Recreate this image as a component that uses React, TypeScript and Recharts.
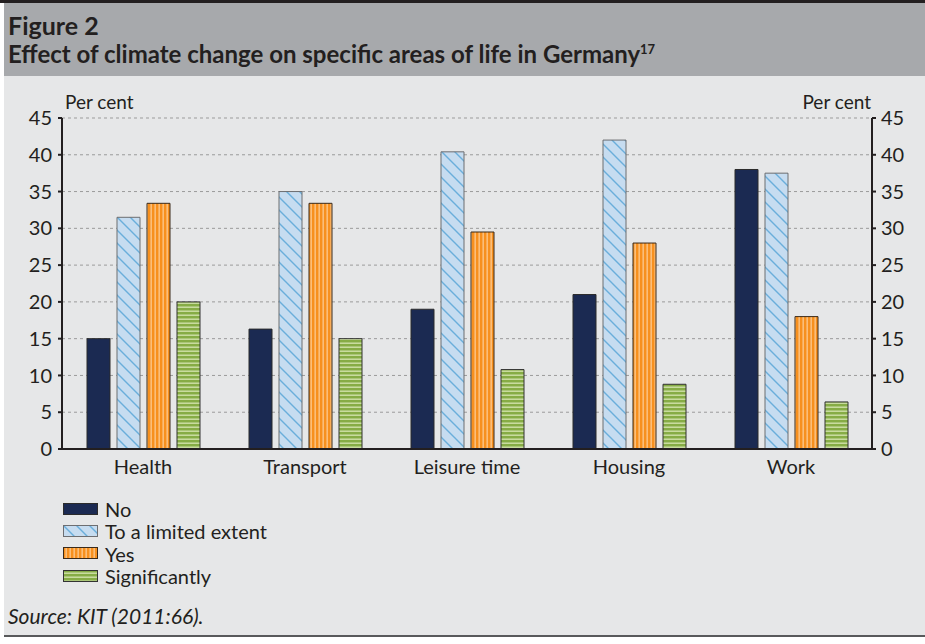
import React from 'react';
import { BarChart, Bar, XAxis, YAxis, CartesianGrid } from 'recharts';

const categories = ['Health', 'Transport', 'Leisure time', 'Housing', 'Work'];
const noValues = [15, 16.3, 19, 21, 38];
const limitedValues = [31.5, 35, 40.4, 42, 37.5];
const yesValues = [33.4, 33.4, 29.5, 28, 18];
const significantValues = [20, 15, 10.8, 8.8, 6.4];
const yTicks = [0, 5, 10, 15, 20, 25, 30, 35, 40, 45];
const edgeTicks = [0, 1, 2, 3, 4, 5];

const series = [
  { key: 'no', name: 'No', fill: '#1b2a52', stroke: '#2b2b2b' },
  { key: 'limited', name: 'To a limited extent', fill: 'url(#limitedPattern)', stroke: '#6d6e71' },
  { key: 'yes', name: 'Yes', fill: 'url(#yesPattern)', stroke: '#3a2a1a' },
  { key: 'significant', name: 'Significantly', fill: 'url(#sigPattern)', stroke: '#333333' },
];

const data = categories.map((name, i) => ({
  name,
  no: noValues[i],
  limited: limitedValues[i],
  yes: yesValues[i],
  significant: significantValues[i],
}));

const font = 'Lato, "Open Sans", sans-serif';
const ink = '#231f20';
const tickFont = { fontSize: 20, fill: ink, fontFamily: font };

const Patterns = () => (
  <svg width={0} height={0} style={{ position: 'absolute' }}>
    <defs>
      <pattern id="limitedPattern" patternUnits="userSpaceOnUse" width={13} height={13}>
        <rect width={13} height={13} fill="#c6dcf0" />
        <path d="M0,0 L13,13 M-6.5,6.5 L6.5,19.5 M6.5,-6.5 L19.5,6.5" stroke="#6aaedb" strokeWidth={1.4} />
      </pattern>
      <pattern id="yesPattern" patternUnits="userSpaceOnUse" width={4} height={4}>
        <rect width={4} height={4} fill="#f7901e" />
        <rect x={2.5} width={1.3} height={4} fill="#fcc98f" />
      </pattern>
      <pattern id="sigPattern" patternUnits="userSpaceOnUse" width={4} height={4}>
        <rect width={4} height={4} fill="#86ac45" />
        <rect y={2.5} width={4} height={1.4} fill="#cfe0a8" />
      </pattern>
    </defs>
  </svg>
);

export default function App() {
  return (
    <div style={{ position: 'absolute', left: 0, top: 0, width: 925, height: 644, background: '#fff', fontFamily: font, color: ink, overflow: 'hidden' }}>
      <Patterns />
      <div style={{ position: 'absolute', left: 0, top: 0, width: 925, height: 3, background: ink }} />
      <div style={{ position: 'absolute', left: 4, top: 3, width: 921, height: 73, background: '#a7a9ac' }} />
      <div style={{ position: 'absolute', left: 4, top: 76, width: 921, height: 559, background: '#e6e7e8' }} />
      <div style={{ position: 'absolute', left: 4, top: 635, width: 921, height: 2, background: '#58595b' }} />

      <div style={{ position: 'absolute', left: 8, top: 10, fontSize: 25, fontWeight: 700, lineHeight: '30px' }}>Figure 2</div>
      <div style={{ position: 'absolute', left: 8, top: 34, fontSize: 24, fontWeight: 700, lineHeight: '30px', whiteSpace: 'nowrap' }}>
        Effect of climate change on specific areas of life in Germany<sup style={{ fontSize: 13 }}>17</sup>
      </div>

      <div style={{ position: 'absolute', left: 65, top: 90, fontSize: 19 }}>Per cent</div>
      <div style={{ position: 'absolute', right: 54, top: 90, fontSize: 19 }}>Per cent</div>

      <div style={{ position: 'absolute', left: 0, top: 100 }}>
        <BarChart
          width={925}
          height={390}
          data={data}
          margin={{ top: 18, right: 0, left: 0, bottom: 10 }}
          barSize={23}
          barGap={7}
        >
          <CartesianGrid vertical={false} yAxisId="left" stroke="#9b9b9b" strokeDasharray="3 3" />
          <XAxis
            xAxisId="edges"
            type="number"
            domain={[0, 5]}
            ticks={edgeTicks}
            allowDataOverflow
            tick={false}
            axisLine={false}
            tickSize={5}
            tickLine={{ stroke: ink, strokeWidth: 2 }}
            height={1}
          />
          <XAxis
            xAxisId="cat"
            dataKey="name"
            axisLine={{ stroke: ink, strokeWidth: 2 }}
            tickLine={false}
            tickSize={4}
            tickMargin={7}
            height={30}
            tick={tickFont}
          />
          <YAxis
            yAxisId="left"
            domain={[0, 45]}
            ticks={yTicks}
            width={62}
            tickSize={4}
            tickMargin={6}
            axisLine={{ stroke: ink, strokeWidth: 2 }}
            tickLine={{ stroke: ink, strokeWidth: 2 }}
            tick={tickFont}
          />
          <YAxis
            yAxisId="right"
            orientation="right"
            domain={[0, 45]}
            ticks={yTicks}
            allowDataOverflow
            width={53}
            tickSize={4}
            tickMargin={5}
            axisLine={{ stroke: ink, strokeWidth: 2 }}
            tickLine={{ stroke: ink, strokeWidth: 2 }}
            tick={tickFont}
          />
          {series.map((s) => (
            <Bar
              key={s.key}
              dataKey={s.key}
              name={s.name}
              xAxisId="cat"
              yAxisId="left"
              fill={s.fill}
              stroke={s.stroke}
              strokeWidth={1}
              isAnimationActive={false}
            />
          ))}
        </BarChart>
      </div>

      <div style={{ position: 'absolute', left: 63, top: 498 }}>
        {series.map((s) => (
          <div key={s.key} style={{ display: 'flex', alignItems: 'center', height: 22.3, fontSize: 20 }}>
            <svg width={36} height={13} style={{ marginRight: 6 }}>
              <rect x={0.5} y={0.5} width={34} height={11} fill={s.fill} stroke={s.stroke} />
            </svg>
            <span>{s.name}</span>
          </div>
        ))}
      </div>

      <div style={{ position: 'absolute', left: 8, top: 603, fontSize: 21, fontStyle: 'italic' }}>Source: KIT (2011:66).</div>
    </div>
  );
}
